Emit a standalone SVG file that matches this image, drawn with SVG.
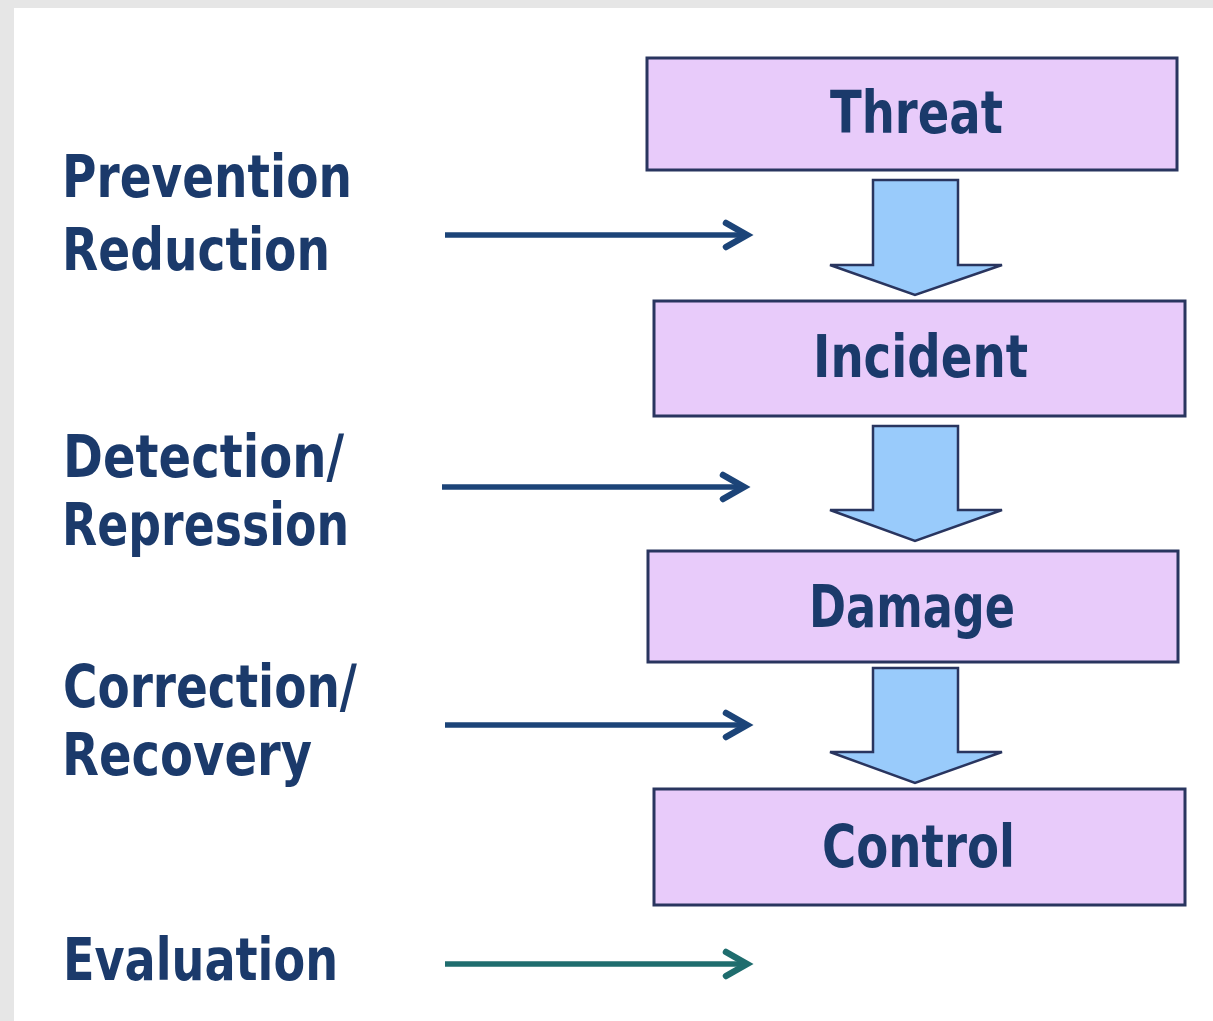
<svg xmlns="http://www.w3.org/2000/svg" width="1213" height="1021" viewBox="0 0 1213 1021">
  <defs>
    <style>
      .box { fill: #e8cbfa; stroke: #29355f; stroke-width: 3; }
      .flow { fill: #99cbfb; stroke: #29355f; stroke-width: 2.5; stroke-linejoin: miter; }
      .lbl { font-family: "DejaVu Sans", "Liberation Sans", sans-serif; font-weight: bold; font-size: 58px; fill: #1b3a6b; }
      .ctl { stroke: #1c4478; stroke-width: 5.5; fill: none; }
      .ctl-head { stroke: #1c4478; stroke-width: 6.5; fill: none; stroke-linejoin: miter; stroke-linecap: round; }
      .eval { stroke: #1f6d6e; stroke-width: 5.5; fill: none; }
      .eval-head { stroke: #1f6d6e; stroke-width: 6.5; fill: none; stroke-linejoin: miter; stroke-linecap: round; }
    </style>
  </defs>

  <!-- page frame -->
  <rect x="0" y="0" width="1213" height="1021" fill="#e6e6e6"/>
  <rect x="14" y="8" width="1199" height="1013" fill="#ffffff"/>

  <!-- stage boxes -->
  <g id="node-threat">
    <rect class="box" x="647" y="58" width="530" height="112"/>
    <text class="lbl" x="830" y="133" textLength="173" lengthAdjust="spacingAndGlyphs">Threat</text>
  </g>
  <g id="node-incident">
    <rect class="box" x="654" y="301" width="531" height="115"/>
    <text class="lbl" x="813" y="377" textLength="215" lengthAdjust="spacingAndGlyphs">Incident</text>
  </g>
  <g id="node-damage">
    <rect class="box" x="648" y="551" width="530" height="111"/>
    <text class="lbl" x="809" y="627" textLength="206" lengthAdjust="spacingAndGlyphs">Damage</text>
  </g>
  <g id="node-control">
    <rect class="box" x="654" y="789" width="531" height="116"/>
    <text class="lbl" x="822" y="867" textLength="193" lengthAdjust="spacingAndGlyphs">Control</text>
  </g>

  <!-- measure labels -->
  <g id="label-prevention">
    <text class="lbl" x="62" y="197" textLength="290" lengthAdjust="spacingAndGlyphs">Prevention</text>
    <text class="lbl" x="62" y="270" textLength="268" lengthAdjust="spacingAndGlyphs">Reduction</text>
  </g>
  <g id="label-detection">
    <text class="lbl" x="63" y="477" textLength="281" lengthAdjust="spacingAndGlyphs">Detection/</text>
    <text class="lbl" x="62" y="545" textLength="287" lengthAdjust="spacingAndGlyphs">Repression</text>
  </g>
  <g id="label-correction">
    <text class="lbl" x="63" y="707" textLength="294" lengthAdjust="spacingAndGlyphs">Correction/</text>
    <text class="lbl" x="62" y="775" textLength="250" lengthAdjust="spacingAndGlyphs">Recovery</text>
  </g>
  <g id="label-evaluation">
    <text class="lbl" x="63" y="980" textLength="275" lengthAdjust="spacingAndGlyphs">Evaluation</text>
  </g>

  <!-- connectors -->
  <g id="connectors">
    <!-- block arrows between stages -->
    <polygon class="flow" points="873,180 958,180 958,265 1002,265 915,295 830,265 873,265"/>
    <polygon class="flow" points="873,426 958,426 958,510 1002,510 915,541 830,510 873,510"/>
    <polygon class="flow" points="873,668 958,668 958,752 1002,752 915,783 830,752 873,752"/>

    <!-- measure arrows -->
    <line class="ctl" x1="445" y1="235" x2="744" y2="235"/>
    <polyline class="ctl-head" points="726,223 747,235 726,247"/>

    <line class="ctl" x1="442" y1="487" x2="741" y2="487"/>
    <polyline class="ctl-head" points="723,475 744,487 723,499"/>

    <line class="ctl" x1="445" y1="725" x2="744" y2="725"/>
    <polyline class="ctl-head" points="726,713 747,725 726,737"/>

    <line class="eval" x1="445" y1="964" x2="744" y2="964"/>
    <polyline class="eval-head" points="726,952 747,964 726,976"/>
  </g>
</svg>
